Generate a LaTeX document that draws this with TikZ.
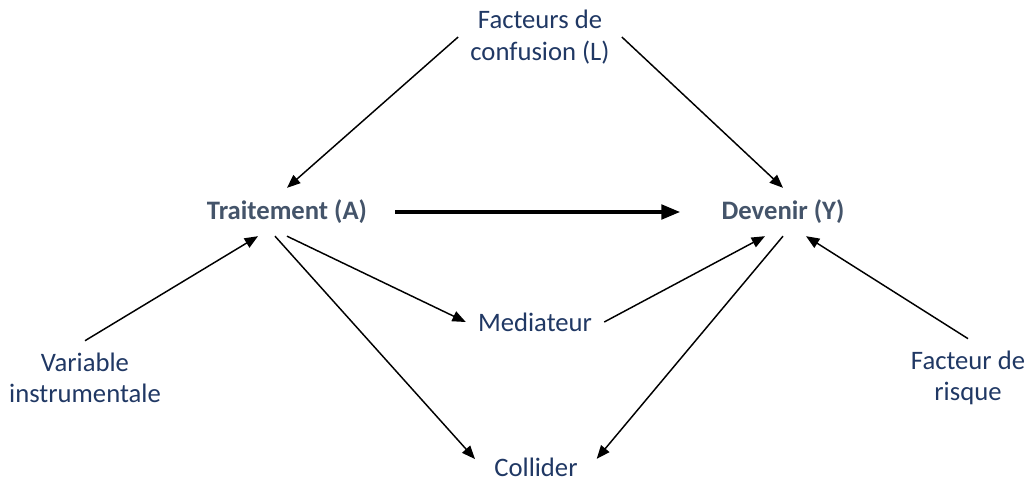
\documentclass[tikz,border=0pt]{standalone}
\usepackage{fontspec}
\setmainfont{Carlito}
\usetikzlibrary{arrows.meta}
\definecolor{txtblue}{RGB}{32,56,100}
\definecolor{txtgrey}{RGB}{68,84,106}

\begin{document}
\begin{tikzpicture}[x=0.75pt, y=-0.75pt]
  \tikzset{every node/.style={align=center, inner sep=9pt, text=txtblue, font=\fontsize{20}{23.5}\selectfont},
           main/.style={text=txtgrey, font=\fontsize{20}{23.5}\selectfont\bfseries},
           arr/.style={-{Triangle[length=10pt,width=8pt]}, line width=1.1pt},
           bigarr/.style={-{Triangle[length=14pt,width=11pt]}, line width=2.3pt}}
  \useasboundingbox (0,0) rectangle (1028,485);
  \node (L) at (540,37) {Facteurs de\\confusion (L)};
  \node[main] (A) at (287,212) {Traitement (A)};
  \node[main] (Y) at (783,212) {Devenir (Y)};
  \node (M) at (535,322) {Mediateur};
  \node (VI) at (85,378) {Variable\\instrumentale};
  \node (FR) at (968,378) {Facteur de\\risque};
  \node[inner ysep=0pt] (C) at (536,467) {Collider};
  % fleches
  \draw[arr] (L.west) -- (A.north);
  \draw[arr] (L.east) -- (Y.north);
  \draw[bigarr, shorten <=12pt, shorten >=22pt] (A.east) -- (Y.west);
  \draw[arr] (A.south) -- (M.west);
  \draw[arr] (M.east) -- ([xshift=-13.5pt]Y.south);
  \draw[arr] (VI.north) -- ([xshift=-21.75pt]A.south);
  \draw[arr] (FR.north) -- ([xshift=17.25pt]Y.south);
  \draw[arr, shorten >=8pt] ([xshift=-9pt]A.south) -- (C.west);
  \draw[arr, shorten >=8pt] (Y.south) -- (C.east);
\end{tikzpicture}
\end{document}
